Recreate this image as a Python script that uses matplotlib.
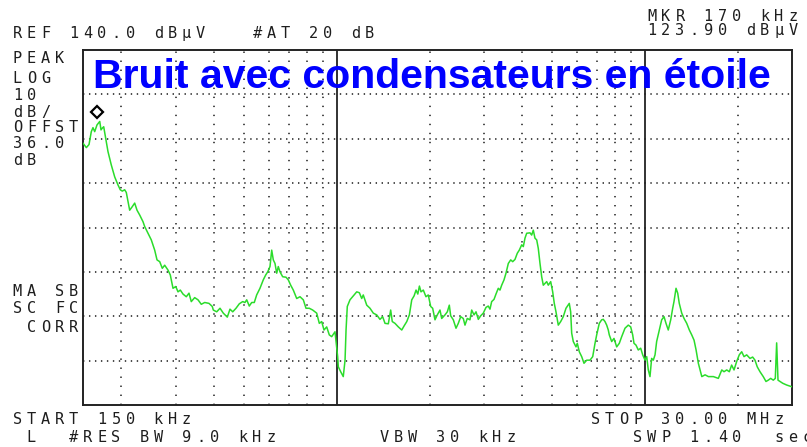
import matplotlib
matplotlib.use('Agg')
import matplotlib.pyplot as plt
from matplotlib.transforms import offset_copy
from matplotlib.ticker import NullLocator

# sweep settings
start_khz = 150
stop_khz = 30000
ref_dbuv = 140.0
db_per_div = 10
n_div = 8

# marker readout
mkr_khz = 170
mkr_dbuv = 123.9

# peak trace (kHz, dBuV)
freq_khz = [
    150, 153.8, 156.9, 159.6, 161.6, 163.7, 166.5, 170.0, 171.6, 173.3,
    175.1, 177.7, 180.8, 185.3, 190.1, 194.8, 198.2, 201.2, 204.8, 207.3,
    210.0, 212.6, 216.8, 220.7, 224.6, 229.2, 231.9, 234.9, 237.9, 243.9,
    249.9, 256.3, 260.8, 266.1, 271.3, 276.2, 283.1, 288.0, 293.9, 300.0,
    305.1, 310.4, 316.7, 324.6, 331.2, 336.9, 345.6, 354.3, 363.0, 372.5,
    384.6, 394.2,
    397.2, 407.4, 417.6, 428.0, 441.0, 449.9, 459.2, 470.6, 482.3, 494.7,
    503.3, 509.8, 519.7, 529.2, 539.5, 549.2, 562.9, 577.0, 587.5, 596.4,
    606.7, 614.5, 621.9, 629.8, 637.9, 645.5, 653.8, 667.1, 683.8, 695.6,
    708.2, 722.1, 740.7, 759.2, 778.2, 794.0, 813.8, 834.7, 860.1, 877.0,
    892.8, 908.3, 926.8, 945.0, 962.1, 986.1,
    1006, 1011, 1029, 1049, 1063, 1071, 1081, 1103, 1131, 1160,
    1183, 1204, 1218, 1250, 1281, 1313, 1347, 1380, 1408, 1433,
    1469, 1495, 1513, 1544, 1583, 1624, 1652, 1686, 1719, 1750,
    1781, 1807, 1831, 1853, 1875, 1908, 1946, 1980, 2016, 2046,
    2082, 2118, 2161, 2189, 2243, 2283, 2317, 2341, 2387, 2436,
    2478, 2523, 2572, 2605, 2650, 2704, 2739, 2787, 2829, 2878,
    2929, 2987, 3048, 3100, 3140, 3180, 3236, 3284, 3341, 3384,
    3427, 3487, 3539, 3601, 3666, 3721, 3785, 3851, 3909, 3980,
    4028, 4079, 4131, 4234, 4288, 4340, 4395, 4452, 4505, 4563,
    4621, 4677, 4737, 4798, 4855, 4943, 5017, 5077, 5142, 5231,
    5326, 5430, 5541, 5679, 5739, 5782, 5852, 5972, 6030, 6121,
    6231, 6339, 6469, 6630, 6766, 6883, 6970, 7107, 7236, 7323,
    7417, 7511, 7601, 7658, 7797, 7932, 8094, 8253, 8402, 8612,
    8826, 8987, 9122, 9211, 9350, 9511, 9684, 9830,
    10000, 10130, 10250, 10380, 10510, 10640, 10780, 10910, 11130, 11330,
    11530, 11700, 11900, 12120, 12300, 12420, 12610, 12770, 12920, 13160,
    13390, 13660, 13930, 14180, 14430, 14650, 14900, 15290, 15670, 16060,
    16670, 17300, 17750, 18050, 18420, 18780, 19110, 19450, 19840, 20230,
    20600, 20960, 21380, 21920, 22360, 22750, 23140, 23620, 24200, 24700,
    25130, 25580, 26090, 26480, 26750, 27020, 27420, 27990, 28830, 30000,
]
level_dbuv = [
    119.0, 118.0, 118.7, 121.6, 122.5, 121.6, 123.1, 123.9, 122.0, 122.4,
    122.7, 120.1, 117.1, 114.1, 111.4, 109.6, 108.5, 108.2, 108.5, 107.9,
    105.8, 103.9, 104.7, 105.5, 103.9, 102.8, 102.1, 101.3, 100.2, 98.7,
    97.2, 94.9, 92.7, 92.3, 90.8, 91.5, 90.4, 89.3, 86.3, 86.7,
    85.5, 85.9, 85.0, 84.4, 85.2, 83.3, 84.2, 83.7, 82.7, 83.1,
    82.9, 82.2,
    81.4, 81.0, 81.8, 80.7, 79.8, 81.6, 81.0, 81.8, 82.8, 83.3,
    83.1, 83.7, 82.3, 83.1, 83.1, 84.8, 86.3, 88.2, 89.3, 90.0,
    91.2, 94.9, 92.7, 91.9, 89.7, 91.2, 90.0, 88.9, 88.8, 88.2,
    87.0, 85.9, 84.0, 84.4, 83.7, 81.8, 81.8, 81.4, 80.7, 78.4,
    78.8, 76.9, 77.6, 75.8, 75.4, 76.5,
    70.9, 68.6, 67.5, 66.4, 70.1, 76.9, 82.2, 83.7, 84.6, 85.5,
    85.3, 84.0, 84.8, 82.5, 81.8, 80.7, 80.3, 79.3, 79.9, 78.4,
    78.3, 81.4, 78.8, 78.4, 77.6, 76.9, 77.8, 78.8, 80.3, 83.7,
    84.6, 85.9, 85.0, 86.8, 85.5, 85.9, 84.4, 84.8, 82.2, 81.8,
    79.2, 80.3, 81.4, 79.5, 80.3, 81.0, 82.5, 80.1, 79.2, 77.3,
    78.4, 79.9, 79.5, 78.0, 79.5, 79.2, 81.4, 80.3, 81.0, 79.3,
    80.1, 80.7, 82.0, 82.3, 81.6, 83.3, 83.8, 85.0, 86.3, 85.9,
    87.0, 88.2, 89.7, 91.9, 92.7, 92.3, 92.8, 94.2, 94.9, 96.1,
    95.7, 97.6, 98.7, 98.8, 98.3, 99.4, 97.6, 97.2, 95.3, 91.9,
    88.9, 87.0, 87.4, 87.8, 87.0, 87.8, 85.5, 82.9, 81.0, 78.0,
    78.8, 79.9, 81.8, 82.9, 81.0, 76.2, 74.3, 73.1, 73.9, 72.0,
    70.9, 69.4, 70.1, 70.1, 70.9, 73.9, 75.8, 78.4, 79.2, 79.3,
    78.8, 78.0, 76.9, 75.8, 74.3, 75.0, 73.1, 73.9, 75.4, 77.3,
    78.0, 77.6, 75.8, 73.9, 73.5, 72.4, 72.8, 71.3,
    70.1, 70.9, 67.9, 66.4, 70.5, 70.1, 71.3, 74.3, 76.9, 79.2,
    79.9, 78.4, 76.9, 79.2, 81.8, 83.3, 86.3, 85.2, 82.9, 80.7,
    79.5, 78.4, 76.9, 75.8, 74.6, 72.4, 69.4, 66.4, 66.8, 66.4,
    66.4, 66.0, 67.9, 67.5, 67.9, 67.5, 69.0, 67.9, 69.8, 71.3,
    72.0, 70.9, 71.3, 70.5, 70.8, 70.1, 68.6, 67.5, 66.4, 65.3,
    65.6, 66.0, 65.6, 66.0, 74.0, 65.6, 65.3, 64.9, 64.5, 64.1,
]

# graticule
grid_levels = [130, 120, 110, 100, 90, 80, 70]
minor_freqs_khz = [200, 300, 400, 500, 600, 700, 800, 900,
                   2000, 3000, 4000, 5000, 6000, 7000, 8000, 9000, 20000]
decade_freqs_khz = [1000, 10000]

title = "Bruit avec condensateurs en étoile"

# screen annotations: (column, baseline px, text)
screen_lines = [
    (45, 21.0, "MKR 170 kHz"),
    (0, 38.0, "REF 140.0 dBµV   #AT 20 dB"),
    (45, 35.0, "123.90 dBµV"),
    (0, 63.3, "PEAK"),
    (0, 83.3, "LOG"),
    (0, 100.0, "10"),
    (0, 116.7, "dB/"),
    (0, 132.3, "OFFST"),
    (0, 148.3, "36.0"),
    (0, 165.0, "dB"),
    (0, 296.0, "MA SB"),
    (0, 313.3, "SC FC"),
    (0, 331.7, " CORR"),
    (0, 424.0, "START 150 kHz"),
    (41, 424.0, "STOP 30.00 MHz"),
    (0, 441.7, " L  #RES BW 9.0 kHz"),
    (26, 441.7, "VBW 30 kHz"),
    (44, 441.7, "SWP 1.40  sec"),
]

W, H = 807, 447
PITCH = 14.1
X0 = 12.7


def screen_text(fig, col, base_y, s):
    # fixed-pitch character cells, like the analyzer display
    for i, ch in enumerate(s):
        if ch == ' ':
            continue
        fig.text((X0 + (col + i) * PITCH) / W, 1 - base_y / H, ch,
                 fontsize=11, family='DejaVu Sans Mono', color='#1e1e1e',
                 ha='left', va='baseline')


def main():
    plt.rcParams['lines.scale_dashes'] = False
    fig = plt.figure(figsize=(W / 100, H / 100), dpi=100)
    fig.patch.set_facecolor('white')
    ax = fig.add_axes([83 / W, (H - 405) / H, 709 / W, 355 / H])
    ax.set_xscale('log')
    ax.set_xlim(start_khz, stop_khz)
    ax.set_ylim(ref_dbuv - n_div * db_per_div, ref_dbuv)
    ax.set_xticks([])
    ax.set_yticks([])
    ax.xaxis.set_minor_locator(NullLocator())
    ax.yaxis.set_minor_locator(NullLocator())
    for sp in ax.spines.values():
        sp.set_linewidth(1.4)
        sp.set_color('#222222')

    for lvl in grid_levels:
        ax.axhline(lvl, color='#1a1a1a', lw=1.1, dashes=(1.0, 3.3), zorder=1)
    for f in minor_freqs_khz:
        ax.axvline(f, color='#1a1a1a', lw=1.1, dashes=(1.0, 5.5), zorder=1)
    for f in decade_freqs_khz:
        ax.axvline(f, color='#222222', lw=1.3, zorder=1)

    ax.plot(freq_khz, level_dbuv, color='#2bdc2b', lw=1.1, zorder=3)

    # marker diamond sits just above the peak
    mk_tr = offset_copy(ax.transData, fig=fig, x=-3, y=9, units='dots')
    ax.plot([mkr_khz], [mkr_dbuv], marker='D', ms=6.5, mfc='white',
            mec='black', mew=1.6, transform=mk_tr, zorder=4, clip_on=False)

    for col, y, s in screen_lines:
        screen_text(fig, col, y, s)

    fig.text(93 / W, 1 - 88.3 / H, title, fontsize=29.5, fontweight='bold',
             family='Liberation Sans', color='#0000ff', va='baseline',
             zorder=5)

    fig.savefig('out.png', dpi=100)


if __name__ == "__main__":
    main()
